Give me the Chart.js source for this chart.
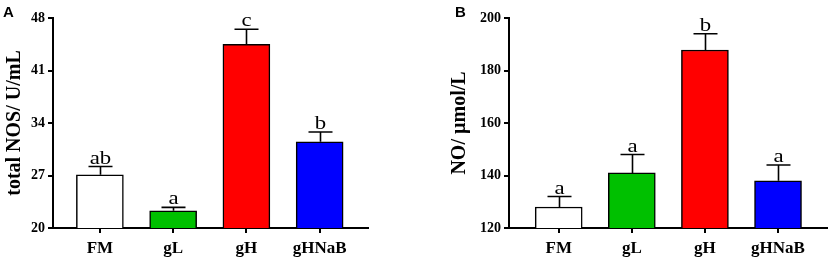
<!DOCTYPE html>
<html lang="en">
<head>
<meta charset="UTF-8">
<title>total NOS and NO</title>
<script src="https://cdn.jsdelivr.net/npm/chart.js"></script>
<style>
  body { margin: 0; background: #fff; width: 829px; height: 258px; position: relative; overflow: hidden; }
  .panel { position: absolute; top: 0; height: 258px; }
  #wrapA { left: 0; width: 410px; }
  #wrapB { left: 410px; width: 419px; }
  .tag { position: absolute; top: 3px; font-family: 'Liberation Sans', Arial, sans-serif; font-weight: bold; font-size: 15px; color: #000; }
</style>
</head>
<body>
<div class="panel" id="wrapA"><canvas id="chartA" width="410" height="258"></canvas></div>
<div class="panel" id="wrapB"><canvas id="chartB" width="419" height="258"></canvas></div>
<div class="tag" style="left:3px">A</div>
<div class="tag" style="left:455px">B</div>

<script>
// groups and colours
var groups = ['FM', 'gL', 'gH', 'gHNaB'];
var barColors = ['#ffffff', '#00c000', '#ff0000', '#0000ff'];

// panel A: total NOS (U/mL)
var nosMean = [27.1, 22.3, 44.5, 31.5];
var nosErr = [1.1, 0.45, 2.0, 1.3];
var nosLetters = ['ab', 'a', 'c', 'b'];
var nosTicks = [20, 27, 34, 41, 48];

// panel B: NO (µmol/L)
var noMean = [128, 141, 187.8, 138];
var noErr = [4, 7, 6.2, 6];
var noLetters = ['a', 'a', 'b', 'a'];
var noTicks = [120, 140, 160, 180, 200];

var serif = "'Liberation Serif', 'Times New Roman', serif";

// draws the upward error bars and the letters above them
var errorBars = {
    id: 'errorBars',
    afterDatasetsDraw: function(chart, args, opts) {
        var ctx = chart.ctx;
        var meta = chart.getDatasetMeta(0);
        var y = chart.scales.y;
        var means = chart.data.datasets[0].data;
        ctx.save();
        ctx.strokeStyle = '#000';
        ctx.lineWidth = 1.6;
        meta.data.forEach(function(bar, i) {
            var top = y.getPixelForValue(means[i].y + opts.errs[i]);
            var x = Math.round(bar.x) + 0.5;
            ctx.beginPath();
            ctx.moveTo(x, bar.y);
            ctx.lineTo(x, top);
            ctx.moveTo(x - 12, top);
            ctx.lineTo(x + 12, top);
            ctx.stroke();
            // letters look a bit stretched in the original figure
            ctx.save();
            ctx.translate(x, top - 3);
            ctx.scale(1.2, 1);
            ctx.fillStyle = '#000';
            ctx.font = '19px ' + serif;
            ctx.textAlign = 'center';
            ctx.textBaseline = 'alphabetic';
            ctx.fillText(opts.letters[i], 0, 0);
            ctx.restore();
        });
        ctx.restore();
    }
};

function makeChart(id, means, errs, letters, ticks, title, cfg) {
    var ctx = document.getElementById(id).getContext('2d');
    return new Chart(ctx, {
        type: 'bar',
        data: {
            datasets: [{
                data: means.map(function(v, i) { return { x: i, y: v }; }),
                backgroundColor: barColors,
                borderColor: '#000',
                borderWidth: 1.5,
                barThickness: 47
            }]
        },
        plugins: [errorBars],
        options: {
            responsive: false,
            animation: false,
            layout: { padding: { left: 0, right: cfg.padRight, top: 18, bottom: 0 } },
            plugins: {
                legend: { display: false },
                tooltip: { enabled: false },
                errorBars: { errs: errs, letters: letters }
            },
            scales: {
                x: {
                    type: 'linear',
                    offset: false,
                    min: cfg.xMin,
                    max: cfg.xMax,
                    afterBuildTicks: function(s) {
                        s.ticks = groups.map(function(g, i) { return { value: i }; });
                    },
                    afterFit: function(s) { s.height = 30; },
                    grid: { offset: false, drawOnChartArea: false, drawTicks: true, tickLength: 5, color: '#000', lineWidth: 2 },
                    border: { display: true, color: '#000', width: 2 },
                    ticks: {
                        color: '#000',
                        padding: 5,
                        font: { family: serif, size: 17, weight: 'bold' },
                        callback: function(v) { return groups[v]; }
                    }
                },
                y: {
                    min: ticks[0],
                    max: ticks[ticks.length - 1],
                    afterBuildTicks: function(s) {
                        s.ticks = ticks.map(function(v) { return { value: v }; });
                    },
                    afterFit: function(s) { s.width = cfg.yWidth; },
                    grid: { drawOnChartArea: false, drawTicks: true, tickLength: 5, color: '#000', lineWidth: 2 },
                    border: { display: true, color: '#000', width: 2 },
                    ticks: {
                        color: '#000',
                        padding: 3,
                        font: { family: serif, size: 14, weight: 'bold' }
                    },
                    title: {
                        display: true,
                        text: title,
                        color: '#000',
                        padding: { top: cfg.titlePad, bottom: 0 },
                        font: { family: serif, size: 20, weight: 'bold' }
                    }
                }
            }
        }
    });
}

makeChart('chartA', nosMean, nosErr, nosLetters, nosTicks, 'total NOS/ U/mL',
    { padRight: 42, yWidth: 53, xMin: -0.64, xMax: 3.66, titlePad: 3 });
makeChart('chartB', noMean, noErr, noLetters, noTicks, 'NO/ µmol/L',
    { padRight: 2, yWidth: 99, xMin: -0.68, xMax: 3.67, titlePad: 38 });
</script>
</body>
</html>
